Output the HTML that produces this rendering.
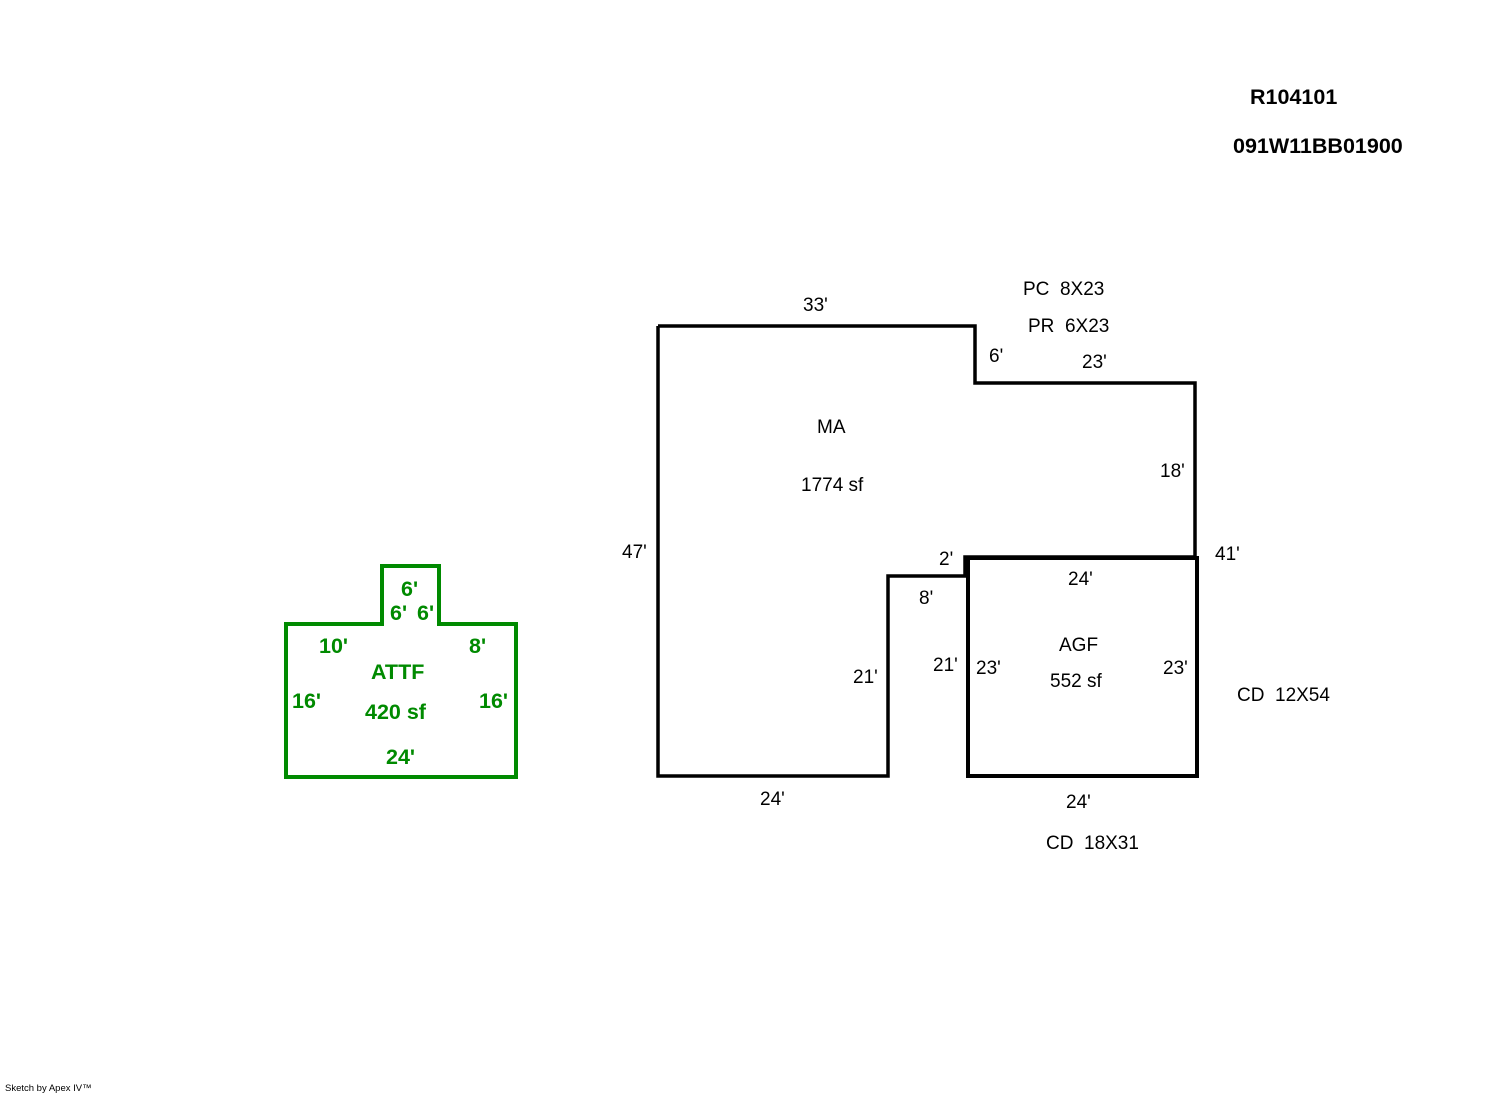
<!DOCTYPE html>
<html><head><style>body{margin:0;background:#fff}svg{display:block}text{white-space:pre}</style></head><body>
<svg width="1492" height="1094" viewBox="0 0 1492 1094" xmlns="http://www.w3.org/2000/svg" font-family="Liberation Sans, Arial, sans-serif">
<rect width="1492" height="1094" fill="#fff"/>
<polyline points="658,326 975,326 975,383 1195,383 1195,557 965,557 965,576 888,576 888,776 658,776 658,326" fill="none" stroke="#000" stroke-width="3.5"/>
<rect x="968" y="558" width="229" height="218" fill="none" stroke="#000" stroke-width="4"/>
<polygon points="286,624 382,624 382,566 439,566 439,624 516,624 516,777 286,777" fill="none" stroke="#008a00" stroke-width="4"/>
<g font-size="19" fill="#000">
<text x="1250" y="104" font-weight="bold" font-size="21.5">R104101</text>
<text x="1233" y="153" font-weight="bold" font-size="21.5">091W11BB01900</text>
<text x="803" y="311">33'</text>
<text x="1023" y="295">PC  8X23</text>
<text x="1028" y="332">PR  6X23</text>
<text x="989" y="362">6'</text>
<text x="1082" y="368">23'</text>
<text x="817" y="433">MA</text>
<text x="801" y="491">1774 sf</text>
<text x="1160" y="477">18'</text>
<text x="622" y="558">47'</text>
<text x="1215" y="560">41'</text>
<text x="939" y="565">2'</text>
<text x="1068" y="585">24'</text>
<text x="919" y="604">8'</text>
<text x="1059" y="651">AGF</text>
<text x="933" y="671">21'</text>
<text x="976" y="674">23'</text>
<text x="1163" y="674">23'</text>
<text x="853" y="683">21'</text>
<text x="1050" y="687">552 sf</text>
<text x="1237" y="701">CD  12X54</text>
<text x="760" y="805">24'</text>
<text x="1066" y="808">24'</text>
<text x="1046" y="849">CD  18X31</text>
</g>
<g font-size="21.5" font-weight="bold" fill="#008a00">
<text x="401" y="596">6'</text>
<text x="390" y="620">6'</text>
<text x="417" y="620">6'</text>
<text x="319" y="653">10'</text>
<text x="469" y="653">8'</text>
<text x="371" y="679">ATTF</text>
<text x="292" y="708">16'</text>
<text x="479" y="708">16'</text>
<text x="365" y="719">420 sf</text>
<text x="386" y="764">24'</text>
</g>
<text x="5" y="1091" font-size="9.5" fill="#000">Sketch by Apex IV™</text>
</svg>
</body></html>
